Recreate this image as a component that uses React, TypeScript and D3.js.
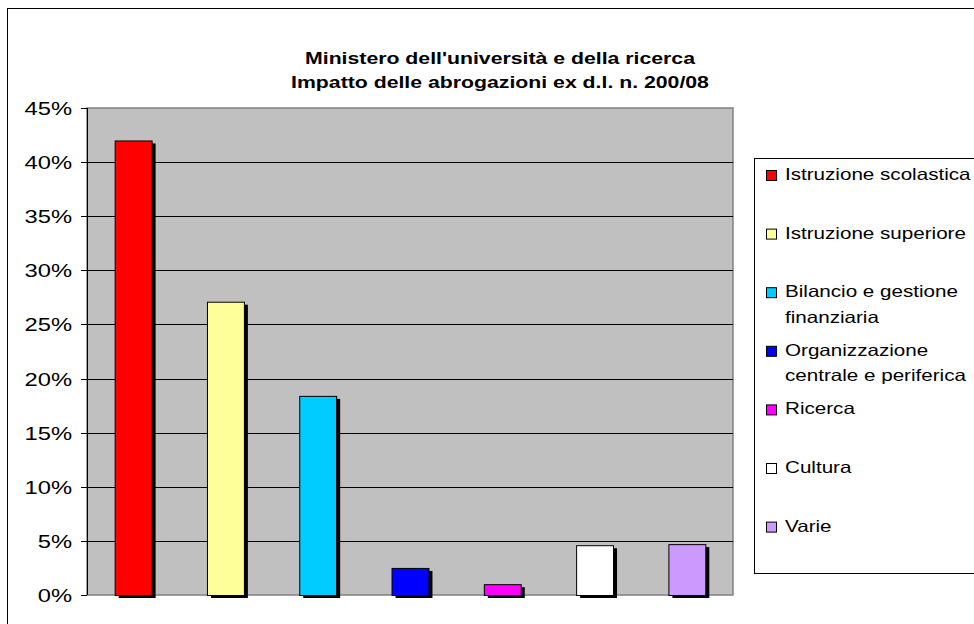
import React from 'react';
import * as d3 from 'd3';

const titleLines = ["Ministero dell'università e della ricerca", 'Impatto delle abrogazioni ex d.l. n. 200/08'];
const categories = [
  'Istruzione scolastica',
  'Istruzione superiore',
  'Bilancio e gestione\nfinanziaria',
  'Organizzazione\ncentrale e periferica',
  'Ricerca',
  'Cultura',
  'Varie',
];
const values = [42.0, 27.1, 18.4, 2.5, 1.0, 4.6, 4.7];
const colors = ['#ff0000', '#ffff99', '#00ccff', '#0000ff', '#ff00ff', '#ffffff', '#cc99ff'];
const yTicks = [0, 5, 10, 15, 20, 25, 30, 35, 40, 45];

const W = 974;
const H = 624;
const plot = { left: 87, right: 733, top: 108, bottom: 595 };
const SX = 1.25; // text in the picture is stretched horizontally

const App = () => {
  const x = d3.scaleBand<string>()
    .domain(categories)
    .range([plot.left, plot.right])
    .paddingInner(0.6)
    .paddingOuter(0.3);
  const y = d3.scaleLinear().domain([0, 45]).range([plot.bottom, plot.top]);

  const legendY = d3.scaleLinear().domain([0, 1]).range([180, 238.6]);

  const txt = (tx: number, ty: number) => `translate(${tx},${ty}) scale(${SX},1)`;

  return (
    <svg width={W} height={H} style={{ position: 'absolute', left: 0, top: 0, background: '#fff' }}
      fontFamily="'Liberation Sans', Arial, sans-serif">
      {/* chart frame */}
      <rect x={7.5} y={8.5} width={1000} height={700} fill="#fff" stroke="#000" />

      {/* title */}
      {titleLines.map((t, i) => (
        <text key={i} transform={txt(500, 64 + i * 24)} textAnchor="middle" fontSize={17} fontWeight="bold" fill="#000">{t}</text>
      ))}

      {/* plot area */}
      <rect x={plot.left} y={plot.top} width={plot.right - plot.left} height={plot.bottom - plot.top}
        fill="#c0c0c0" stroke="#808080" strokeWidth={1.5} />
      {yTicks.filter(t => t > 0 && t < 45).map(t => (
        <line key={t} x1={plot.left} x2={plot.right} y1={Math.round(y(t)) + 0.5} y2={Math.round(y(t)) + 0.5} stroke="#000" />
      ))}

      {/* y axis */}
      <line x1={plot.left + 0.5} x2={plot.left + 0.5} y1={plot.top} y2={plot.bottom} stroke="#000" />
      {yTicks.map(t => (
        <g key={t}>
          <line x1={81} x2={plot.left} y1={Math.round(y(t)) + 0.5} y2={Math.round(y(t)) + 0.5} stroke="#000" />
          <text transform={txt(72, y(t) + 7)} textAnchor="end" fontSize={19} fill="#000">{t}%</text>
        </g>
      ))}

      {/* bars with shadows */}
      {categories.map((c, i) => (
        <rect key={'s' + c} x={(x(c) ?? 0) + 4} y={y(values[i]) + 3} width={x.bandwidth()}
          height={plot.bottom - y(values[i])} fill="#000" />
      ))}
      {categories.map((c, i) => (
        <rect key={c} x={(x(c) ?? 0) + 0.5} y={y(values[i]) + 0.5} width={x.bandwidth()}
          height={plot.bottom - y(values[i])} fill={colors[i]} stroke="#000" strokeWidth={1} />
      ))}

      {/* legend */}
      <rect x={754.5} y={158.5} width={300} height={415} fill="#fff" stroke="#000" />
      {categories.map((c, i) => {
        const by = legendY(i);
        return (
          <g key={'l' + c}>
            <rect x={766.5} y={by - 9.5} width={10} height={10} fill={colors[i]} stroke="#000" />
            {c.split('\n').map((line, j) => (
              <text key={j} transform={txt(785, by + j * 25.5)} fontSize={16.5} fill="#000">{line}</text>
            ))}
          </g>
        );
      })}
    </svg>
  );
};

export default App;
